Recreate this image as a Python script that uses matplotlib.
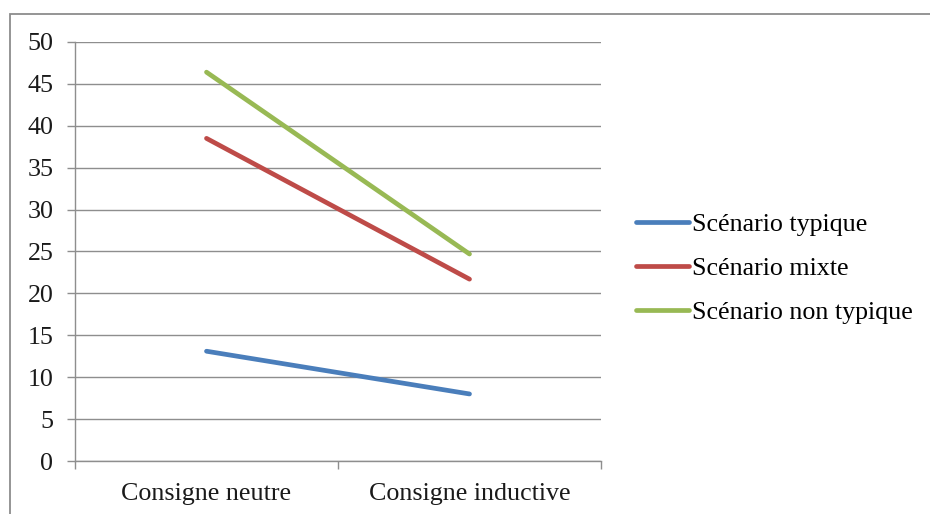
import matplotlib
matplotlib.use("Agg")
import matplotlib.pyplot as plt
from matplotlib.patches import Rectangle
from matplotlib.ticker import FixedLocator, NullFormatter

plt.rcParams['font.family'] = ['Liberation Serif', 'DejaVu Serif']

categories = ["Consigne neutre", "Consigne inductive"]
series_names = ["Scénario typique", "Scénario mixte", "Scénario non typique"]
typique = [13.1, 8.0]
mixte = [38.5, 21.7]
non_typique = [46.4, 24.7]
y_ticks = [0, 5, 10, 15, 20, 25, 30, 35, 40, 45, 50]

colors = ["#4A7EBB", "#BE4B48", "#98B954"]
grid_col = "#8E8E8E"
fs = 18.7

fig = plt.figure(figsize=(9.30, 5.14), dpi=100)
ax = fig.add_axes([75/930, 1 - 461/514, (601 - 75)/930, (461 - 42)/514])

x = list(range(len(categories)))
for vals, name, c in zip([typique, mixte, non_typique], series_names, colors):
    ax.plot(x, vals, color=c, lw=3.4, solid_capstyle='round', label=name, zorder=3)

ax.set_xlim(-0.5, len(categories) - 0.5)
ax.set_ylim(0, 50)
ax.set_yticks(y_ticks)
ax.yaxis.grid(True, color=grid_col, lw=1.0)
ax.set_axisbelow(True)

# category ticks sit between categories, labels centred on each category
ax.xaxis.set_major_locator(FixedLocator([-0.5, 0.5, 1.5]))
ax.xaxis.set_major_formatter(NullFormatter())
ax.xaxis.set_minor_locator(FixedLocator(x))
ax.set_xticklabels(categories, minor=True)
ax.tick_params(axis='x', which='minor', length=0, pad=15.5, labelsize=fs, colors='#1a1a1a')
ax.tick_params(axis='x', which='major', length=6, width=1.0, color=grid_col, direction='out')
ax.tick_params(axis='y', length=6, width=1.0, color=grid_col, pad=9.5, labelsize=fs, labelcolor='#1a1a1a')

for s in ['top', 'right']:
    ax.spines[s].set_visible(False)
for s in ['left', 'bottom']:
    ax.spines[s].set_color(grid_col)
    ax.spines[s].set_linewidth(1.0)

ax.legend(loc='upper left', bbox_to_anchor=(636/930, 1 - 213/514), bbox_transform=fig.transFigure,
          frameon=False, fontsize=fs, handlelength=2.05, handletextpad=0.1,
          labelspacing=0.8, borderpad=0, borderaxespad=0)

# outer chart border (right and bottom edges fall outside the image)
fig.add_artist(Rectangle((9.5/930, -0.2), 1.2, 0.2 + 1 - 14/514, transform=fig.transFigure,
                         fill=False, edgecolor='#8C8C8C', lw=1.3))

fig.savefig("out.png", dpi=100)
